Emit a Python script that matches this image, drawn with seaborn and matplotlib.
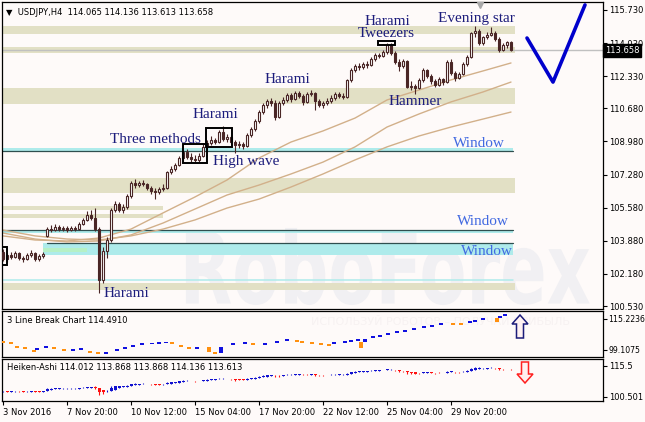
import matplotlib
matplotlib.use('Agg')
import matplotlib.pyplot as plt
import seaborn as sns
import numpy as np
import pandas as pd
from matplotlib.patches import Rectangle, FancyArrow, PathPatch
from matplotlib.textpath import TextPath
from matplotlib.font_manager import FontProperties
from matplotlib.transforms import Affine2D

sns.set_theme(style='white')
plt.rcParams['font.family'] = ['DejaVu Sans']

# ---- USDJPY H4 candles ----
opens = [103.30, 102.95, 103.15, 103.05, 103.25, 103.00, 102.95, 103.15, 103.25, 102.95,
         103.10, 104.15, 104.50, 104.45, 104.60, 104.50, 104.55, 104.45, 104.55, 104.50,
         104.75, 104.95, 105.20, 105.05, 104.50, 101.85, 103.35, 103.90, 105.45, 105.75,
         105.45, 105.60, 106.20, 106.85, 106.75, 106.85, 106.80, 106.60, 106.45, 106.40,
         106.55, 106.60, 107.40, 107.55, 107.75, 108.15, 108.45, 108.20, 108.10, 108.05,
         108.25, 108.70, 108.90, 109.05, 108.95, 109.45, 109.10, 109.20, 108.95, 108.80,
         108.85, 108.75, 109.30, 109.60, 110.05, 110.50, 110.85, 111.05, 110.95, 110.25,
         110.95, 111.10, 111.35, 111.15, 111.45, 111.30, 111.00, 111.40, 111.45, 111.05,
         110.85, 110.95, 111.05, 111.20, 111.40, 111.30, 111.25, 112.15, 112.65, 112.85,
         112.80, 112.95, 112.90, 113.20, 113.40, 113.35, 113.55, 113.95, 113.50, 113.05,
         112.85, 113.10, 111.75, 111.85, 111.70, 112.15, 112.65, 112.35, 112.10, 111.90,
         112.20, 112.05, 113.05, 112.50, 112.25, 112.45, 112.95, 113.30, 114.55, 114.65,
         114.05, 114.35, 114.45, 114.55, 114.25, 113.70, 113.95, 114.065]
highs = [103.45, 103.25, 103.30, 103.35, 103.30, 103.10, 103.25, 103.40, 103.30, 103.20,
         103.30, 104.60, 104.70, 104.75, 104.70, 104.65, 104.65, 104.65, 104.65, 104.85,
         105.05, 105.40, 105.45, 105.55, 104.60, 103.55, 104.05, 105.55, 105.90, 105.85,
         105.75, 106.30, 106.95, 107.05, 106.95, 107.00, 106.85, 106.70, 106.60, 106.65,
         106.80, 107.45, 107.70, 107.85, 108.25, 108.55, 108.60, 108.40, 108.30, 108.40,
         108.85, 109.05, 109.25, 109.15, 109.55, 109.75, 109.35, 109.30, 109.05, 109.00,
         108.95, 109.40, 109.70, 110.15, 110.60, 110.95, 111.15, 111.20, 111.10, 111.05,
         111.25, 111.45, 111.45, 111.55, 111.55, 111.40, 111.50, 111.60, 111.50, 111.15,
         111.05, 111.20, 111.35, 111.50, 111.50, 111.45, 112.20, 112.75, 112.95, 113.00,
         113.05, 113.10, 113.30, 113.50, 113.50, 113.65, 114.05, 114.05, 113.60, 113.20,
         113.20, 113.15, 112.10, 111.95, 112.25, 112.75, 112.70, 112.45, 112.20, 112.30,
         112.25, 113.15, 113.20, 112.60, 112.55, 113.05, 113.40, 114.60, 114.90, 114.75,
         114.40, 114.60, 114.85, 114.65, 114.35, 114.05, 114.15, 114.136]
lows = [102.85, 102.80, 102.95, 103.00, 102.90, 102.80, 102.90, 103.05, 102.85, 102.85,
        103.00, 104.05, 104.35, 104.40, 104.40, 104.40, 104.35, 104.40, 104.40, 104.45,
        104.70, 104.90, 104.95, 104.40, 101.20, 101.70, 103.00, 103.80, 105.35, 105.35,
        105.30, 105.50, 106.10, 106.60, 106.65, 106.70, 106.50, 106.30, 106.05, 106.30,
        106.45, 106.55, 107.30, 107.45, 107.70, 108.00, 108.10, 107.95, 107.90, 107.95,
        108.20, 108.60, 108.80, 108.85, 108.90, 109.00, 108.95, 108.85, 108.40, 108.65,
        108.60, 108.70, 109.20, 109.50, 109.95, 110.40, 110.70, 110.80, 110.10, 110.20,
        110.85, 111.00, 111.00, 111.10, 111.20, 110.85, 110.95, 111.30, 110.60, 110.75,
        110.70, 110.85, 110.95, 111.10, 111.20, 111.15, 111.20, 112.05, 112.55, 112.65,
        112.70, 112.75, 112.85, 113.10, 113.25, 113.30, 113.45, 113.40, 112.95, 112.60,
        112.75, 111.70, 111.60, 111.40, 111.65, 112.05, 112.25, 111.95, 111.75, 111.85,
        111.90, 112.00, 112.40, 112.10, 112.20, 112.40, 112.85, 113.25, 114.35, 113.95,
        113.95, 114.25, 114.40, 114.15, 113.55, 113.60, 113.80, 113.613]
closes = [102.95, 103.15, 103.05, 103.25, 103.00, 102.95, 103.15, 103.25, 102.95, 103.10,
          103.20, 104.50, 104.45, 104.60, 104.50, 104.55, 104.45, 104.55, 104.50, 104.75,
          104.95, 105.20, 105.05, 104.50, 101.85, 103.35, 103.90, 105.45, 105.75, 105.45,
          105.60, 106.20, 106.85, 106.75, 106.85, 106.80, 106.60, 106.45, 106.40, 106.55,
          106.60, 107.40, 107.55, 107.75, 108.15, 108.45, 108.20, 108.10, 108.05, 108.25,
          108.70, 108.90, 109.05, 108.95, 109.45, 109.10, 109.20, 108.95, 108.80, 108.85,
          108.75, 109.30, 109.60, 110.05, 110.50, 110.85, 111.05, 110.95, 110.25, 110.95,
          111.10, 111.35, 111.15, 111.45, 111.30, 111.00, 111.40, 111.45, 111.05, 110.85,
          110.95, 111.05, 111.20, 111.40, 111.30, 111.25, 112.15, 112.65, 112.85, 112.80,
          112.95, 112.90, 113.20, 113.40, 113.35, 113.55, 113.95, 113.50, 113.05, 112.85,
          113.10, 111.75, 111.85, 111.70, 112.15, 112.65, 112.35, 112.10, 111.90, 112.20,
          112.05, 113.05, 112.50, 112.25, 112.45, 112.95, 113.30, 114.55, 114.65, 114.05,
          114.35, 114.45, 114.55, 114.25, 113.70, 113.95, 114.065, 113.658]
last_price = 113.658

# moving averages (sampled every 8 bars)
ma_bars = [0, 8, 16, 24, 32, 40, 48, 56, 64, 72, 80, 88, 96, 104, 112, 120, 127]
ma_fast = [104.13, 103.92, 103.87, 104.02, 104.48, 105.31, 106.13, 107.00, 108.13,
           108.95, 109.52, 110.18, 111.11, 111.62, 112.14, 112.60, 113.01]
ma_mid = [104.28, 103.97, 103.82, 103.87, 104.18, 104.79, 105.51, 106.23, 106.74,
          107.31, 107.92, 108.70, 109.72, 110.39, 111.01, 111.52, 112.03]
ma_slow = [104.43, 104.13, 103.97, 103.92, 104.13, 104.48, 104.95, 105.56, 106.02,
           106.64, 107.31, 108.03, 108.70, 109.26, 109.72, 110.13, 110.49]

# support / resistance zones
zone_lo = [114.50, 113.52, 110.90, 106.33, 105.46, 105.05, 101.35]
zone_hi = [114.91, 113.83, 111.72, 107.10, 105.67, 105.25, 101.71]
zone_end = [128, 128, 128, 128, 40, 40, 128]

# gap windows
win_lo = [108.49, 104.28, 103.15]
win_hi = [108.64, 104.43, 103.77]
win_edge = [108.49, 104.43, 103.77]
win_start = [-0.25, -0.25, 10]
win_labels = ['Window', 'Window', 'Window']
win_label_x = [119.1, 120.0, 121.0]
win_label_y = [108.70, 104.69, 103.15]

# candlestick pattern labels
pat_labels = ['Harami', 'Tweezers', 'Evening star', 'Hammer', 'Harami', 'Harami',
              'Three methods', 'High wave', 'Harami']
pat_x = [96.1, 95.9, 118.25, 103.0, 71.0, 53.0, 38.0, 60.9, 30.9]
pat_y = [114.96, 114.32, 115.09, 110.85, 111.98, 110.18, 108.90, 107.77, 100.99]

# pattern boxes: bar from, bar to, price low, price high
box_x0 = [-0.75, 45.0, 50.75, 93.75]
box_x1 = [1.0, 51.0, 57.25, 98.0]
box_lo = [102.64, 107.87, 108.70, 113.93]
box_hi = [103.56, 108.85, 109.67, 114.14]

# forecast V
fc_bars = [131, 137.5, 145.5]
fc_price = [114.29, 112.03, 115.99]

price_ticks = [115.730, 114.030, 112.330, 110.680, 108.980, 107.280, 105.580,
               103.880, 102.180, 100.530]

# 3 line break bricks
lb_x = [0, 2, 3.5, 5.5, 7.75, 8.5, 10.75, 12.75, 15.25, 17.5, 19.5, 21.75, 23.75,
        25.75, 28.5, 30.5, 32.5, 34.75, 37.25, 39, 40.75, 42.25, 44.5, 46.5, 48.5,
        51.5, 53, 54.5, 57.5, 60.5, 62.5, 65.5, 68.5, 71, 73.5, 74.75, 77.25, 79.5,
        81.5, 82.75, 85.5, 87, 88.75, 89.5, 90.5, 92.5, 94.25, 96.25, 98.5, 100.5,
        102.75, 105.25, 107.25, 109.5, 112.5, 114.5, 116.75, 118, 120, 123.5, 124.25,
        125.5]
lb_open = [103.8, 103.3, 101.1, 100.5, 99.0, 99.2, 100.3, 100.5, 99.5, 98.7, 99.1,
           98.5, 98.0, 97.1, 98.7, 99.7, 100.8, 101.8, 102.0, 102.4, 102.6, 103.1,
           101.7, 100.5, 99.62, 100.66, 97.9, 97.54, 101.8, 102.4, 102.6, 101.7, 102.9,
           103.9, 104.2, 103.7, 103.1, 102.6, 102.1, 102.4, 102.9, 103.4, 103.9, 103.26,
           103.26, 105.5, 106.0, 107.0, 108.1, 108.6, 109.6, 110.7, 111.2, 112.2, 113.0,
           113.0, 112.9, 113.8, 114.8, 115.74, 115.9, 116.9]
lb_close = [103.0, 102.2, 100.3, 99.7, 98.2, 100.0, 101.1, 99.7, 98.7, 99.5, 100.2,
            97.6, 97.1, 97.9, 99.5, 100.5, 101.6, 102.6, 102.8, 103.1, 103.3, 102.4,
            100.66, 99.7, 100.66, 98.06, 97.1, 100.66, 102.6, 103.1, 101.8, 102.74, 103.7,
            104.7, 103.4, 102.9, 102.4, 101.8, 101.3, 103.1, 103.7, 104.2, 104.7, 100.14,
            104.82, 106.2, 106.8, 107.8, 108.8, 109.4, 110.4, 111.4, 112.0, 113.0, 112.2,
            112.2, 114.0, 114.6, 115.6, 113.66, 116.7, 117.7]
lb_ticks = [115.2236, 99.1075]
lb_tick_labels = ['115.2236', '99.1075']

ha_ticks = [115.5, 100.501]
ha_tick_labels = ['115.5', '100.501']

x_label_bars = [0, 16, 32, 48, 64, 80, 96, 112]
x_labels = ['3 Nov 2016', '7 Nov 20:00', '10 Nov 12:00', '15 Nov 04:00',
            '17 Nov 20:00', '22 Nov 12:00', '25 Nov 04:00', '29 Nov 20:00']

# ---- figure ----
BG = '#FEFAF9'
CANDLE = '#4A2626'
W, H = 645, 422


def px_rect(x0, y0, x1, y1):
    return [x0 / W, 1 - y1 / H, (x1 - x0) / W, (y1 - y0) / H]


fig = plt.figure(figsize=(W / 100, H / 100), dpi=100, facecolor=BG)
ax = fig.add_axes(px_rect(2, 2, 603, 309))
ax2 = fig.add_axes(px_rect(2, 311, 603, 357))
ax3 = fig.add_axes(px_rect(2, 359, 603, 401))

XL = (-0.25, 150.0)
for a in (ax, ax2, ax3):
    a.set_facecolor(BG)
    a.set_xlim(*XL)
    for s in a.spines.values():
        s.set_color('black')
        s.set_linewidth(0.9)
    a.tick_params(axis='x', bottom=False, labelbottom=False)
    a.tick_params(axis='y', left=False, labelleft=False, right=True, labelright=True,
                  direction='out', length=3, width=0.8, color='black', pad=1.5,
                  labelsize=6, labelcolor='black')

df = pd.DataFrame({'open': opens, 'high': highs, 'low': lows, 'close': closes})
df['bar'] = np.arange(len(df))

# ---- main panel ----
ax.set_ylim(100.377, 116.14)
ax.set_yticks(price_ticks)
ax.set_yticklabels([f'{v:.3f}' for v in price_ticks])

# watermark
tp = TextPath((0, 0), 'RoboForex', size=1,
              prop=FontProperties(family='DejaVu Sans', weight='bold'))
ext = tp.get_extents()
tr = (Affine2D().translate(-ext.x0, -ext.y0)
      .scale(0.672 / ext.width, 0.251 / ext.height).translate(0.306, 0.013)
      + ax.transAxes)
ax.add_patch(PathPatch(tp, transform=tr, fc='#F1F0F3', ec='none', zorder=0.5))

for lo, hi, xe in zip(zone_lo, zone_hi, zone_end):
    ax.fill_between([XL[0], xe], lo, hi, color='#E2E0C5', lw=0, zorder=1)

for lo, hi, edge, xs in zip(win_lo, win_hi, win_edge, win_start):
    ax.fill_between([xs, 127.5], lo, hi, color='#AEEBEB', lw=0, zorder=1.1)
    ax.plot([xs + (1 if xs > 0 else 0), 127.5], [edge, edge], color='#2F4F4F',
            lw=0.9, zorder=1.2)
ax.fill_between([10, 21], 103.30, 103.51, color='#B6F0C6', lw=0, zorder=1.15)
ax.plot([XL[0], 127.5], [101.87, 101.87], color='#AEEBEB', lw=1.1, zorder=1.1)

ax.axhline(last_price, color='#C0C0C0', lw=1, zorder=1.3)

sns.lineplot(x=ma_bars, y=ma_slow, ax=ax, color='#D2B08A', lw=1, zorder=2)
sns.lineplot(x=ma_bars, y=ma_mid, ax=ax, color='#D2B08A', lw=1, zorder=2)
sns.lineplot(x=ma_bars, y=ma_fast, ax=ax, color='#D2B08A', lw=1, zorder=2)

up = df['close'] >= df['open']
ax.vlines(df['bar'], df['low'], df['high'], color=CANDLE, lw=0.8, zorder=3)
body_lo = df[['open', 'close']].min(axis=1)
body_h = (df['close'] - df['open']).abs()
ax.bar(df['bar'][up], body_h[up], bottom=body_lo[up], width=0.7, color='white',
       edgecolor=CANDLE, lw=0.8, zorder=4)
ax.bar(df['bar'][~up], body_h[~up], bottom=body_lo[~up], width=0.7, color=CANDLE,
       edgecolor=CANDLE, lw=0.8, zorder=4)

for x0, x1, lo, hi in zip(box_x0, box_x1, box_lo, box_hi):
    ax.add_patch(Rectangle((x0, lo), x1 - x0, hi - lo, fill=False, ec='black',
                           lw=1.4, zorder=5))

sns.lineplot(x=fc_bars, y=fc_price, ax=ax, color='#0000CC', lw=2.6, zorder=5)

for t, x, y in zip(pat_labels, pat_x, pat_y):
    ax.text(x, y, t, ha='center', va='baseline', fontsize=11, color='#1C1C7C',
            family='Liberation Serif', zorder=6)
for t, x, y in zip(win_labels, win_label_x, win_label_y):
    ax.text(x, y, t, ha='center', va='baseline', fontsize=11, color='#4169E1',
            family='Liberation Serif', zorder=6)

ax.text(0.0067, 0.967, '\u25bc  USDJPY,H4  114.065 114.136 113.613 113.658',
        transform=ax.transAxes, fontsize=6, va='center', ha='left', color='black')
ax.plot([119.3], [115.99], marker='v', ms=5, color='#A8A8A8', clip_on=False, zorder=6)
ax.text(1.003, last_price, f'{last_price:.3f}', transform=ax.get_yaxis_transform(),
        ha='left', va='center', fontsize=6, color='white', clip_on=False, zorder=10,
        bbox=dict(boxstyle='square,pad=0.25', fc='black', ec='black'))

# ---- 3 line break panel ----
ax2.set_ylim(95.46, 119.38)
ax2.set_yticks(lb_ticks)
ax2.set_yticklabels(lb_tick_labels)
ax2.tick_params(axis='y', labelsize=5.6, pad=1)
lb = pd.DataFrame({'x': lb_x, 'open': lb_open, 'close': lb_close})
lb_up = lb['close'] > lb['open']
lb_lo = lb[['open', 'close']].min(axis=1)
lb_h = (lb['close'] - lb['open']).abs()
ax2.bar(lb['x'][lb_up], lb_h[lb_up], bottom=lb_lo[lb_up], width=0.9, color='#1010E0',
        lw=0, zorder=3)
ax2.bar(lb['x'][~lb_up], lb_h[~lb_up], bottom=lb_lo[~lb_up], width=0.9,
        color='#FF9010', lw=0, zorder=3)
ax2.text(0.008, 0.80, '3 Line Break Chart 114.4910', transform=ax2.transAxes,
         fontsize=6, va='center', ha='left', color='black')
ax2.text(0.514, 0.76, 'ИСПОЛЬЗУЙ РОБОТОВ – ПОЛУЧАЙ ПРИБЫЛЬ', transform=ax2.transAxes,
         fontsize=8, va='center', ha='left', color='#F7F2F2', zorder=1)
ax2.add_patch(FancyArrow(129.25, 105.34, 0, 11.96, width=1.75, head_width=4.0,
                         head_length=4.68, length_includes_head=True, fc='#FFF2F2',
                         ec='#1C1C7A', lw=1.1, clip_on=False, zorder=5))

# ---- Heiken-Ashi panel ----
ha_close = (df['open'] + df['high'] + df['low'] + df['close']) / 4
ha_open = np.empty(len(df))
ha_open[0] = (opens[0] + closes[0]) / 2
for i in range(1, len(df)):
    ha_open[i] = (ha_open[i - 1] + ha_close.iloc[i - 1]) / 2
ha_high = np.maximum.reduce([df['high'].values, ha_open, ha_close.values])
ha_low = np.minimum.reduce([df['low'].values, ha_open, ha_close.values])
ha_up = ha_close.values >= ha_open
ha_col = np.where(ha_up, '#1010D0', '#FF1010')
ax3.set_ylim(98.5, 118.8)
ax3.set_yticks(ha_ticks)
ax3.set_yticklabels(ha_tick_labels)
ax3.vlines(df['bar'], ha_low, ha_high, colors=ha_col, lw=0.8, zorder=3)
ha_lo = np.minimum(ha_open, ha_close.values)
ha_h = np.abs(ha_close.values - ha_open)
ax3.bar(df['bar'], ha_h, bottom=ha_lo, width=0.75, color=ha_col, lw=0, zorder=4)
ax3.text(0.008, 0.786, 'Heiken-Ashi 114.012 113.868 113.868 114.136 113.613',
         transform=ax3.transAxes, fontsize=6, va='center', ha='left', color='black')
ax3.add_patch(FancyArrow(130.5, 117.35, 0, -10.15, width=1.75, head_width=4.0,
                         head_length=4.35, length_includes_head=True, fc='#FFF0F0',
                         ec='#FF2020', lw=1.1, clip_on=False, zorder=5))

ax3.set_xticks(x_label_bars)
ax3.set_xticklabels(x_labels, ha='left')
ax3.tick_params(axis='x', bottom=True, labelbottom=True, direction='out', length=3,
                width=0.8, color='black', pad=2, labelsize=6, labelcolor='black')

fig.savefig('out.png', dpi=100, facecolor=BG)
